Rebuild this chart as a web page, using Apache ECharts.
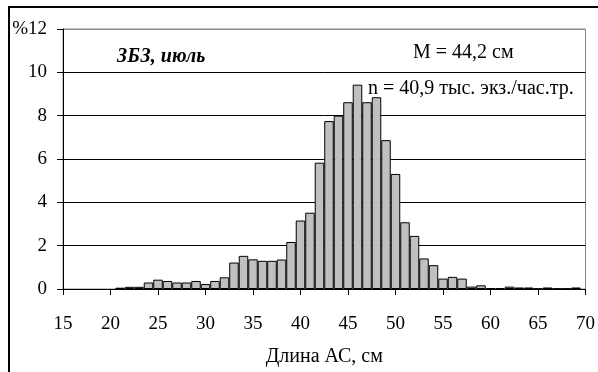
<!DOCTYPE html>
<html>
<head>
<meta charset="utf-8">
<script src="https://cdn.jsdelivr.net/npm/echarts@6/dist/echarts.min.js"></script>
<style>
  html, body { margin: 0; padding: 0; background: #fff; }
  #chart { width: 598px; height: 372px; }
</style>
</head>
<body>
<div id="chart"></div>
<script>
// длины АС, см (центры классов)
const lengths = [21, 22, 23, 24, 25, 26, 27, 28, 29, 30, 31, 32, 33, 34, 35, 36, 37, 38, 39, 40,
  41, 42, 43, 44, 45, 46, 47, 48, 49, 50, 51, 52, 53, 54, 55, 56, 57, 58, 59, 60,
  61, 62, 63, 64, 65, 66, 67, 68, 69]
// доля, %
const shares = [0.06, 0.1, 0.1, 0.3, 0.43, 0.37, 0.3, 0.3, 0.37, 0.23, 0.37, 0.54, 1.22, 1.53, 1.37, 1.3, 1.3, 1.36, 2.17, 3.16,
  3.52, 5.83, 7.75, 8.0, 8.62, 9.43, 8.62, 8.85, 6.87, 5.31, 3.08, 2.45, 1.41, 1.1, 0.48, 0.56, 0.48, 0.11, 0.17, 0.04,
  0.04, 0.11, 0.07, 0.07, 0.02, 0.07, 0.02, 0.02, 0.07]

const xTicks = [15, 20, 25, 30, 35, 40, 45, 50, 55, 60, 65, 70]
const yTicks = [0, 2, 4, 6, 8, 10, 12]

const FONT = '"Liberation Serif", "DejaVu Serif", serif'

const chartEl = document.getElementById('chart')
const myChart = echarts.init(chartEl)

const gridLeft = 63
const gridRight = 11
const plotWidth = 598 - gridLeft - gridRight
const binWidth = plotWidth / (xTicks[xTicks.length - 1] - xTicks[0])

/** подписи на поле графика */
function note(text, x, y, font) {
  return {
    type: 'text', x, y,
    style: { text, font, fill: '#000', textVerticalAlign: 'middle', verticalAlign: 'middle' }
  }
}

myChart.setOption({
  animation: false,
  grid: { left: gridLeft, right: gridRight, top: 29, bottom: 79, show: true, borderColor: '#888', borderWidth: 1 },
  xAxis: {
    type: 'value',
    min: xTicks[0],
    max: xTicks[xTicks.length - 1],
    interval: 5,
    name: 'Длина АС, см',
    nameLocation: 'middle',
    nameGap: 58,
    nameTextStyle: { fontFamily: FONT, fontSize: 20, color: '#000' },
    axisLine: { lineStyle: { color: '#000', width: 1 } },
    axisTick: { show: true, length: 6, lineStyle: { color: '#000' } },
    axisLabel: { margin: 26, fontFamily: FONT, fontSize: 19, color: '#000' },
    splitLine: { show: false }
  },
  yAxis: {
    type: 'value',
    min: yTicks[0],
    max: yTicks[yTicks.length - 1],
    interval: 2,
    axisLine: { show: true, lineStyle: { color: '#000', width: 1 } },
    axisTick: { show: true, length: 6, lineStyle: { color: '#000' } },
    axisLabel: {
      margin: 16,
      fontFamily: FONT,
      fontSize: 19,
      color: '#000',
      formatter: (v) => v === 12 ? '%12' : String(v)
    },
    splitLine: { show: true, lineStyle: { color: ['#000', '#000', '#000', '#000', '#000', '#000', '#888'], width: 1 } }
  },
  series: [{
    type: 'bar',
    data: lengths.map((x, i) => [x, shares[i]]),
    barWidth: binWidth,
    itemStyle: { color: '#c0c0c0', borderColor: '#000', borderWidth: 1 }
  }],
  graphic: [
    { type: 'line', shape: { x1: 8, y1: 7, x2: 598, y2: 7 }, style: { stroke: '#000', lineWidth: 2 } },
    { type: 'line', shape: { x1: 9, y1: 7, x2: 9, y2: 372 }, style: { stroke: '#000', lineWidth: 2 } },
    note('ЗБЗ, июль', 117, 57, 'italic bold 20px ' + FONT),
    note('M = 44,2 см', 413, 53, '20px ' + FONT),
    note('n = 40,9 тыс. экз./час.тр.', 368, 89, '20px ' + FONT)
  ]
})
</script>
</body>
</html>
